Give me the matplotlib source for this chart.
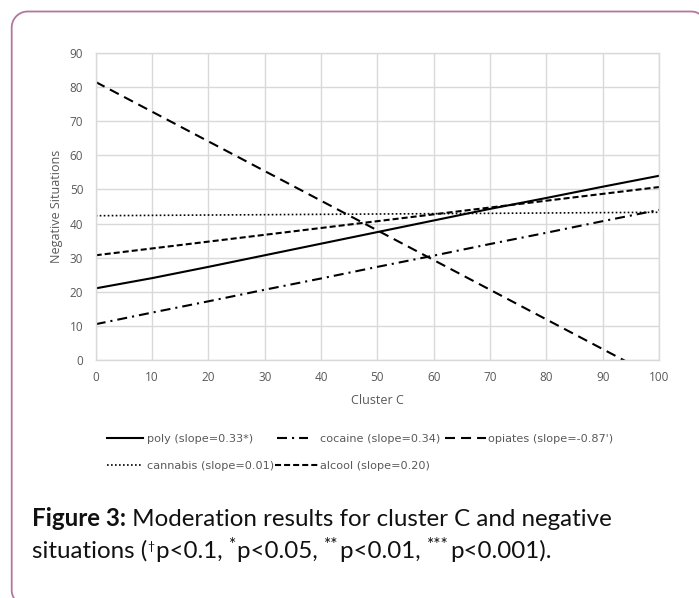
import matplotlib
matplotlib.use("Agg")
import matplotlib.pyplot as plt
import numpy as np
from matplotlib.lines import Line2D

# ---------------- data ----------------
cluster_c = [0, 10, 20, 30, 40, 50, 60, 70, 80, 90, 100]
poly     = [21.0, 24.0, 27.3, 30.7, 34.1, 37.5, 40.9, 44.3, 47.5, 50.8, 54.0]
cocaine  = [10.5, 13.9, 17.2, 20.6, 23.9, 27.3, 30.6, 34.0, 37.3, 40.7, 44.0]
opiates  = [81.5, 72.8, 64.1, 55.4, 46.7, 38.0, 29.3, 20.6, 11.9, 3.2, -5.5]
cannabis = [42.3, 42.4, 42.5, 42.6, 42.7, 42.8, 42.9, 43.0, 43.1, 43.2, 43.3]
alcool   = [30.7, 32.7, 34.7, 36.7, 38.7, 40.7, 42.7, 44.7, 46.7, 48.7, 50.7]
series_labels = ["poly (slope=0.33*)", "cocaine (slope=0.34)", "opiates (slope=-0.87')",
                 "cannabis (slope=0.01)", "alcool (slope=0.20)"]
x_ticks = list(range(0, 101, 10))
y_ticks = list(range(0, 91, 10))
x_label = "Cluster C"
y_label = "Negative Situations"

W, H = 699, 598
DPI = 100
fig = plt.figure(figsize=(W / DPI, H / DPI), dpi=DPI)
fig.patch.set_facecolor("white")

def fx(px):
    return px / W

def fy(py):
    return 1 - py / H

# rounded border outline (pixel coords, y downwards); only the part inside the canvas
bx0, by0, bx1, by1, rad = 11.7, 11.5, 707, 606, 16
def arc(cx, cy, a0, a1, n=30):
    t = np.linspace(np.radians(a0), np.radians(a1), n)
    return cx + rad * np.cos(t), cy - rad * np.sin(t)
bl_x, bl_y = arc(bx0 + rad, by1 - rad, 270, 180)   # bottom-left, going up
tl_x, tl_y = arc(bx0 + rad, by0 + rad, 180, 90)    # top-left
tr_x, tr_y = arc(bx1 - rad, by0 + rad, 90, 0)      # top-right
keep_bl = bl_y <= H + 0.5
keep_tr = tr_x <= W + 0.5
xs = np.concatenate([bl_x[keep_bl], tl_x, tr_x[keep_tr]])
ys = np.concatenate([bl_y[keep_bl], tl_y, tr_y[keep_tr]])
fig.add_artist(Line2D(fx(xs), fy(ys), transform=fig.transFigure,
                      color="#b3769f", linewidth=1.3, solid_joinstyle="round",
                      solid_capstyle="butt"))

ax_l, ax_r, ax_t, ax_b = 95.7, 659, 53, 360
ax = fig.add_axes([fx(ax_l), fy(ax_b), fx(ax_r) - fx(ax_l), fy(ax_t) - fy(ax_b)])
ax.set_xlim(0, 100)
ax.set_ylim(0, 90)
ax.set_xticks(x_ticks)
ax.set_yticks(y_ticks)
grid_c = "#d9d9d9"
ax.grid(True, color=grid_c, linewidth=1.0)
ax.set_axisbelow(True)
for s in ax.spines.values():
    s.set_color(grid_c)
    s.set_linewidth(1.0)
tick_c = "#595959"
ax.tick_params(length=0, colors=tick_c, labelsize=8.5)
ax.tick_params(axis="y", pad=9)
ax.tick_params(axis="x", pad=8)
for lab in ax.get_xticklabels() + ax.get_yticklabels():
    lab.set_fontfamily("Open Sans")

ax.set_xlabel(x_label, fontsize=9, color=tick_c, fontfamily="Open Sans")
ax.set_ylabel(y_label, fontsize=9, color=tick_c, fontfamily="Open Sans")
ax.xaxis.label.set_va("center")
ax.yaxis.label.set_va("center")
ax.xaxis.set_label_coords(0.5, -(400 - ax_b) / (ax_b - ax_t))
ax.yaxis.set_label_coords((57 - ax_l) / (ax_r - ax_l), 0.5)

lw = 1.5
h_poly, = ax.plot(cluster_c, poly, color="black", linestyle="-", linewidth=lw)
h_coc, = ax.plot(cluster_c, cocaine, color="black", linestyle=(0, (4.8, 2.4, 1.0, 2.4)), linewidth=lw)
h_opi, = ax.plot(cluster_c, opiates, color="black", linestyle=(0, (4.8, 2.9)), linewidth=lw)
h_can, = ax.plot(cluster_c, cannabis, color="black", linestyle=(0, (1.0, 1.4)), linewidth=1.2)
h_alc, = ax.plot(cluster_c, alcool, color="black", linestyle=(0, (2.9, 1.45)), linewidth=lw)

leg_size = 8.1
leg_px = leg_size * DPI / 72.0
leg_font = dict(family=["Liberation Sans Narrow", "DejaVu Sans"], size=leg_size)

# (handle, label, handle-left px, handle-right px, text-left px, row y px)
entries = [
    (h_poly, series_labels[0], 107, 143, 147, 439),
    (h_coc, series_labels[1], 277, 308, 320, 439),
    (h_opi, series_labels[2], 445, 486, 488, 439),
    (h_can, series_labels[3], 107, 143, 147, 466),
    (h_alc, series_labels[4], 275, 318, 320, 466),
]
for h, lab, hl, hr, tl, yy in entries:
    fig.legend([h], [lab], loc="center left", bbox_to_anchor=(fx(hl), fy(yy)),
               frameon=False, prop=leg_font, labelcolor=tick_c,
               handlelength=(hr - hl) / leg_px, handletextpad=(tl - hr) / leg_px,
               borderaxespad=0, borderpad=0)

# caption with rich text runs
fig.canvas.draw()
renderer = fig.canvas.get_renderer()
cap_family = ["Lato", "DejaVu Sans"]
cap_size = 17.4

def draw_runs(x_px, y_px, runs):
    x = x_px
    for txt, weight, sup in runs:
        size = cap_size * (sup if sup else 1.0)
        yy = y_px - (8 if sup else 0)
        t = fig.text(fx(x), fy(yy), txt, fontsize=size, fontweight=weight,
                     family=cap_family, color="#111111", va="baseline", ha="left")
        bb = t.get_window_extent(renderer=renderer)
        x += bb.width + (1.5 if sup else 0)

draw_runs(32, 526, [("Figure 3:", "bold", 0),
                    (" Moderation results for cluster C and negative", "normal", 0)])
draw_runs(32, 558, [("situations (", "normal", 0), ("\u2020", "normal", 0.5),
                    ("p<0.1, ", "normal", 0), ("*", "normal", 0.72),
                    ("p<0.05, ", "normal", 0), ("**", "normal", 0.72),
                    ("p<0.01, ", "normal", 0), ("***", "normal", 0.72),
                    ("p<0.001).", "normal", 0)])

fig.savefig("out.png", dpi=DPI, facecolor="white")
